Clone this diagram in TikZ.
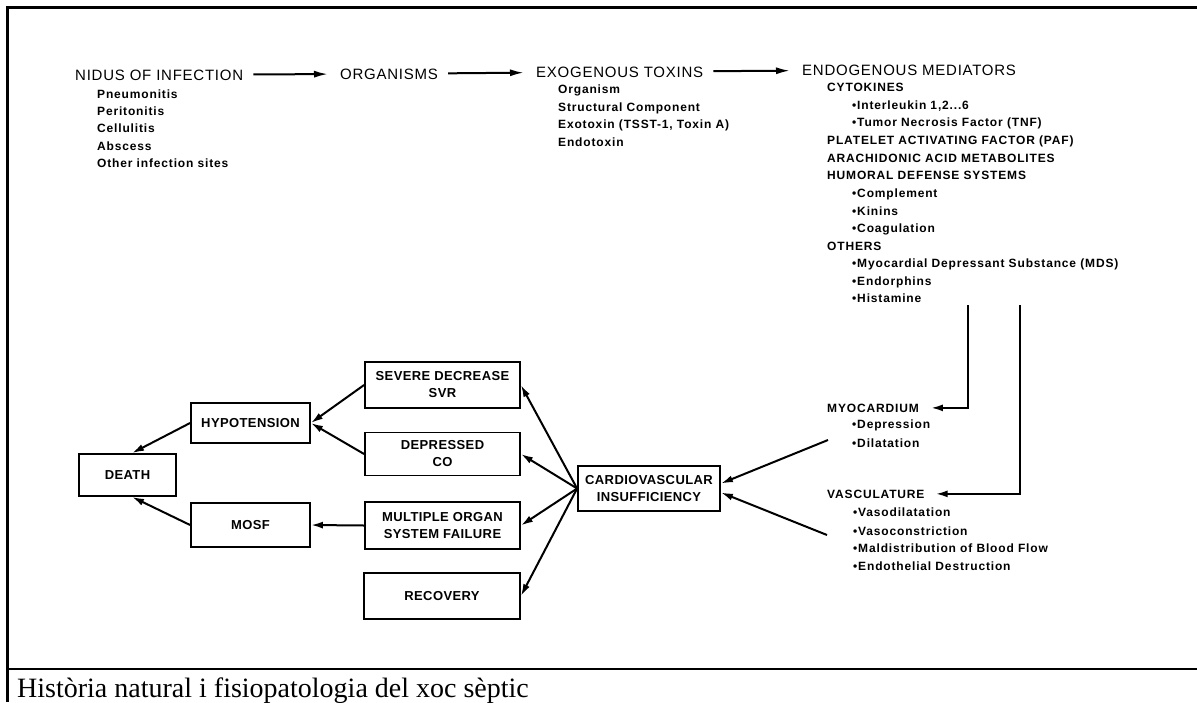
\documentclass[tikz,border=0pt]{standalone}
\usepackage{fontspec}
\setmainfont{Liberation Sans}
\newfontfamily\headf[LetterSpace=5]{Liberation Sans}
\newfontfamily\subf[LetterSpace=7]{Liberation Sans}
\newfontfamily\boxf[LetterSpace=3]{Liberation Sans}
\newfontfamily\capf{Liberation Serif}
\usetikzlibrary{arrows.meta}
\begin{document}
\begin{tikzpicture}[x=1pt,y=-1pt,
  head/.style={inner sep=0pt,anchor=base west,font=\headf\fontsize{15}{17}\selectfont},
  sub/.style={inner sep=0pt,anchor=base west,font=\subf\bfseries\fontsize{12}{14}\selectfont},
  boxn/.style={draw,line width=1.8pt,inner sep=0pt,align=center,font=\boxf\bfseries\fontsize{13}{17}\selectfont},
  frame/.style={line width=3pt},
  arr/.style={line width=2pt,-{Latex[length=12pt,width=7pt]}},
  toparr/.style={line width=2pt,-{Latex[length=14pt,width=7pt]},shorten <=10pt,shorten >=12pt}]
\useasboundingbox (0,0) rectangle (1197,702);
% frame
\draw[frame] (7,702) -- (7,7) -- (1197,7);
\draw[line width=2.5pt] (7,669) -- (1197,669);
\node[inner sep=0pt,anchor=base west,font=\capf\fontsize{28}{30}\selectfont] (cap) at (17,697) {Història natural i fisiopatologia del xoc sèptic};
% top row
\node[head] (nidus) at (75,80) {NIDUS OF INFECTION};
\node[head] (org) at (340,79) {ORGANISMS};
\node[head] (exo) at (536,77) {EXOGENOUS TOXINS};
\node[head] (endo) at (802,75) {ENDOGENOUS MEDIATORS};
\draw[toparr] (nidus) -- (org);
\draw[toparr] (org) -- (exo);
\draw[toparr] (exo) -- (endo);
% nidus list
\node[sub] (n1) at (97,98) {Pneumonitis};
\node[sub] (n2) at (97,115) {Peritonitis};
\node[sub] (n3) at (97,132) {Cellulitis};
\node[sub] (n4) at (97,150) {Abscess};
\node[sub] (n5) at (97,167) {Other infection sites};
% exo list
\node[sub] (e1) at (558,93) {Organism};
\node[sub] (e2) at (558,111) {Structural Component};
\node[sub] (e3) at (558,128) {Exotoxin (TSST-1, Toxin A)};
\node[sub] (e4) at (558,146) {Endotoxin};
% endo list
\node[sub] (m1) at (827,91) {CYTOKINES};
\node[sub] (m2) at (852,109) {•Interleukin 1,2...6};
\node[sub] (m3) at (852,126) {•Tumor Necrosis Factor (TNF)};
\node[sub] (m4) at (827,144) {PLATELET ACTIVATING FACTOR (PAF)};
\node[sub] (m5) at (827,162) {ARACHIDONIC ACID METABOLITES};
\node[sub] (m6) at (827,179) {HUMORAL DEFENSE SYSTEMS};
\node[sub] (m7) at (852,197) {•Complement};
\node[sub] (m8) at (852,215) {•Kinins};
\node[sub] (m9) at (852,232) {•Coagulation};
\node[sub] (m10) at (827,250) {OTHERS};
\node[sub] (m11) at (852,267) {•Myocardial Depressant Substance (MDS)};
\node[sub] (m12) at (852,285) {•Endorphins};
\node[sub] (m13) at (852,302) {•Histamine};
% myocardium / vasculature
\node[sub] (myo) at (827,412) {MYOCARDIUM};
\node[sub] (my1) at (852,428) {•Depression};
\node[sub] (my2) at (852,447) {•Dilatation};
\node[sub] (vasc) at (827,498) {VASCULATURE};
\node[sub] (v1) at (853,516) {•Vasodilatation};
\node[sub] (v2) at (853,535) {•Vasoconstriction};
\node[sub] (v3) at (853,552) {•Maldistribution of Blood Flow};
\node[sub] (v4) at (853,570) {•Endothelial Destruction};
\coordinate (d1) at (968,305);
\coordinate (d2) at (1020,305);
\draw[arr,shorten >=12pt] (d1) |- (myo.east);
\draw[arr,shorten >=11pt] (d2) |- (vasc.east);
% boxes
\node[boxn,minimum width=155pt,minimum height=46pt] (svr) at (442.5,385) {SEVERE DECREASE\\SVR};
\node[boxn,minimum width=155pt,minimum height=43pt] (co) at (442.5,454) {DEPRESSED\\CO};
\node[boxn,minimum width=155pt,minimum height=47pt] (mult) at (442.5,525.5) {MULTIPLE ORGAN\\SYSTEM FAILURE};
\node[boxn,minimum width=156pt,minimum height=46pt] (rec) at (442,596) {RECOVERY};
\node[boxn,minimum width=142pt,minimum height=45pt] (cardio) at (649,488.5) {CARDIOVASCULAR\\INSUFFICIENCY};
\node[boxn,minimum width=119pt,minimum height=40pt] (hypo) at (250.5,423) {HYPOTENSION};
\node[boxn,minimum width=97pt,minimum height=42pt] (death) at (127.5,475) {DEATH};
\node[boxn,minimum width=119pt,minimum height=44pt] (mosf) at (250.5,525) {MOSF};
% connectors
\coordinate (c1) at (828,440);
\coordinate (c2) at (827,535);
\draw[arr] (c1) -- ([yshift=5pt]cardio.east);
\draw[arr] (c2) -- ([yshift=-4pt]cardio.east);
\draw[arr] (cardio.west) -- (svr.east);
\draw[arr] (cardio.west) -- (co.east);
\draw[arr] (cardio.west) -- (mult.east);
\draw[arr] (cardio.west) -- (rec.east);
\draw[arr] (svr.west) -- (hypo.east);
\draw[arr] (co.west) -- (hypo.east);
\draw[arr] (mult.west) -- (mosf.east);
\draw[arr] (hypo.west) -- ([xshift=4.5pt]death.north);
\draw[arr] (mosf.west) -- ([xshift=4.5pt]death.south);
\end{tikzpicture}
\end{document}
